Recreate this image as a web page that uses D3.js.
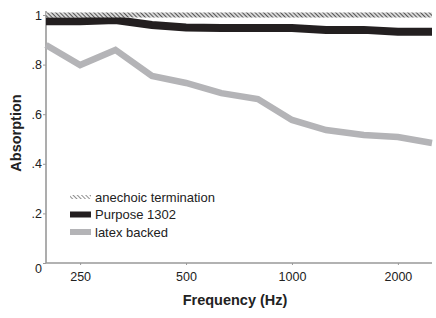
<!DOCTYPE html>
<html>
<head>
<meta charset="utf-8">
<script src="https://cdn.jsdelivr.net/npm/d3@7"></script>
<style>
  body { margin: 0; background: #fff; }
  svg text { font-family: "Liberation Sans", Arial, sans-serif; fill: #222; }
</style>
</head>
<body>
<div id="chart"></div>
<script>
// 1/3 octave bands
const FREQS = [200, 250, 315, 400, 500, 630, 800, 1000, 1250, 1600, 2000, 2500];
const ANECHOIC = [1, 1, 1, 1, 1, 1, 1, 1, 1, 1, 1, 1];
const PURPOSE = [0.975, 0.975, 0.98, 0.96, 0.95, 0.948, 0.948, 0.948, 0.94, 0.94, 0.932, 0.932];
const LATEX = [0.879, 0.798, 0.859, 0.754, 0.726, 0.685, 0.661, 0.577, 0.536, 0.516, 0.508, 0.484];
const XTICKS = [250, 500, 1000, 2000];
const YTICKS = [0, 0.2, 0.4, 0.6, 0.8, 1];
const LEGEND = ["anechoic termination", "Purpose 1302", "latex backed"];

var width = 436, height = 318;
// plot edges (don't use "top", it's window.top)
var pLeft = 46, pRight = 432, pTop = 15, pBottom = 263;

var svg = d3.select("#chart").append("svg")
    .attr("width", width).attr("height", height);

// hatch patterns: dense one for the line, lighter one for legend swatch
var defs = svg.append("defs");
function hatch(id, bg, sw) {
    var p = defs.append("pattern")
        .attr("id", id)
        .attr("patternUnits", "userSpaceOnUse")
        .attr("width", 3).attr("height", 3)
        .attr("patternTransform", "rotate(-45)");
    p.append("rect").attr("width", 3).attr("height", 3).attr("fill", bg);
    p.append("line").attr("x1", 0).attr("y1", 0).attr("x2", 0).attr("y2", 3)
        .attr("stroke", "#333").attr("stroke-width", sw);
}
hatch("hatch", "#d8d8d8", 1.6);
hatch("hatchLeg", "#fff", 1.1);

var x = d3.scaleLog().domain([200, 2500]).range([pLeft, pRight]);
var y = d3.scaleLinear().domain([0, 1]).range([pBottom, pTop]);

var line = d3.line()
    .x(function(d, i) { return x(FREQS[i]); })
    .y(function(d) { return y(d); });

// axes
var xAxis = d3.axisBottom(x).tickValues(XTICKS).tickFormat(d3.format("d")).tickSize(2).tickSizeOuter(0);
var yAxis = d3.axisLeft(y).tickValues(YTICKS)
    .tickFormat(function(d) { return d == 1 ? "1" : d == 0 ? "0" : d3.format(".1f")(d).replace("0.", "."); })
    .tickSize(3).tickSizeOuter(0);

var gx = svg.append("g").attr("transform", "translate(0," + pBottom + ")").call(xAxis);
gx.select(".domain").attr("d", "M" + pLeft + ",0H" + pRight);
var gy = svg.append("g").attr("transform", "translate(" + pLeft + ",0)").call(yAxis);
gy.select(".domain").attr("d", "M0," + (pTop - 4) + "V" + pBottom);

svg.selectAll(".domain").attr("stroke", "#999").attr("stroke-width", 1.6);
svg.selectAll(".tick line").attr("stroke", "#999").attr("stroke-width", 1);
svg.selectAll(".tick text").style("font-size", "12.5px").attr("fill", "#222");
gx.selectAll(".tick text").attr("dy", "1.05em");
gy.selectAll(".tick text").attr("x", -4);
gy.selectAll(".tick").filter(function(d) { return d == 0; }).select("text").attr("dy", "0.75em");

// series
svg.append("path").datum(LATEX).attr("d", line)
    .attr("fill", "none").attr("stroke", "#b4b4b7").attr("stroke-width", 6.5);
svg.append("path").datum(PURPOSE).attr("d", line)
    .attr("fill", "none").attr("stroke", "#231f20").attr("stroke-width", 8);
svg.append("path").datum(ANECHOIC).attr("d", line)
    .attr("fill", "none").attr("stroke", "url(#hatch)").attr("stroke-width", 5);

// axis titles
svg.append("text").attr("x", 235).attr("y", 305)
    .attr("text-anchor", "middle").style("font-size", "14.5px").style("font-weight", "bold")
    .text("Frequency (Hz)");
svg.append("text").attr("transform", "translate(21,133) rotate(-90)")
    .attr("text-anchor", "middle").style("font-size", "14.5px").style("font-weight", "bold")
    .text("Absorption");

// legend
var lg = svg.append("g").attr("transform", "translate(70,197)");
var swatch = ["url(#hatchLeg)", "#231f20", "#b4b4b7"];
var swh = [4, 6, 6];
LEGEND.forEach(function(name, i) {
    lg.append("rect").attr("x", 0).attr("y", i * 17.5 - swh[i] / 2)
        .attr("width", 21).attr("height", swh[i]).attr("fill", swatch[i]);
    lg.append("text").attr("x", 25).attr("y", i * 17.5).attr("dy", "0.35em")
        .style("font-size", "13px").text(name);
});
</script>
</body>
</html>
